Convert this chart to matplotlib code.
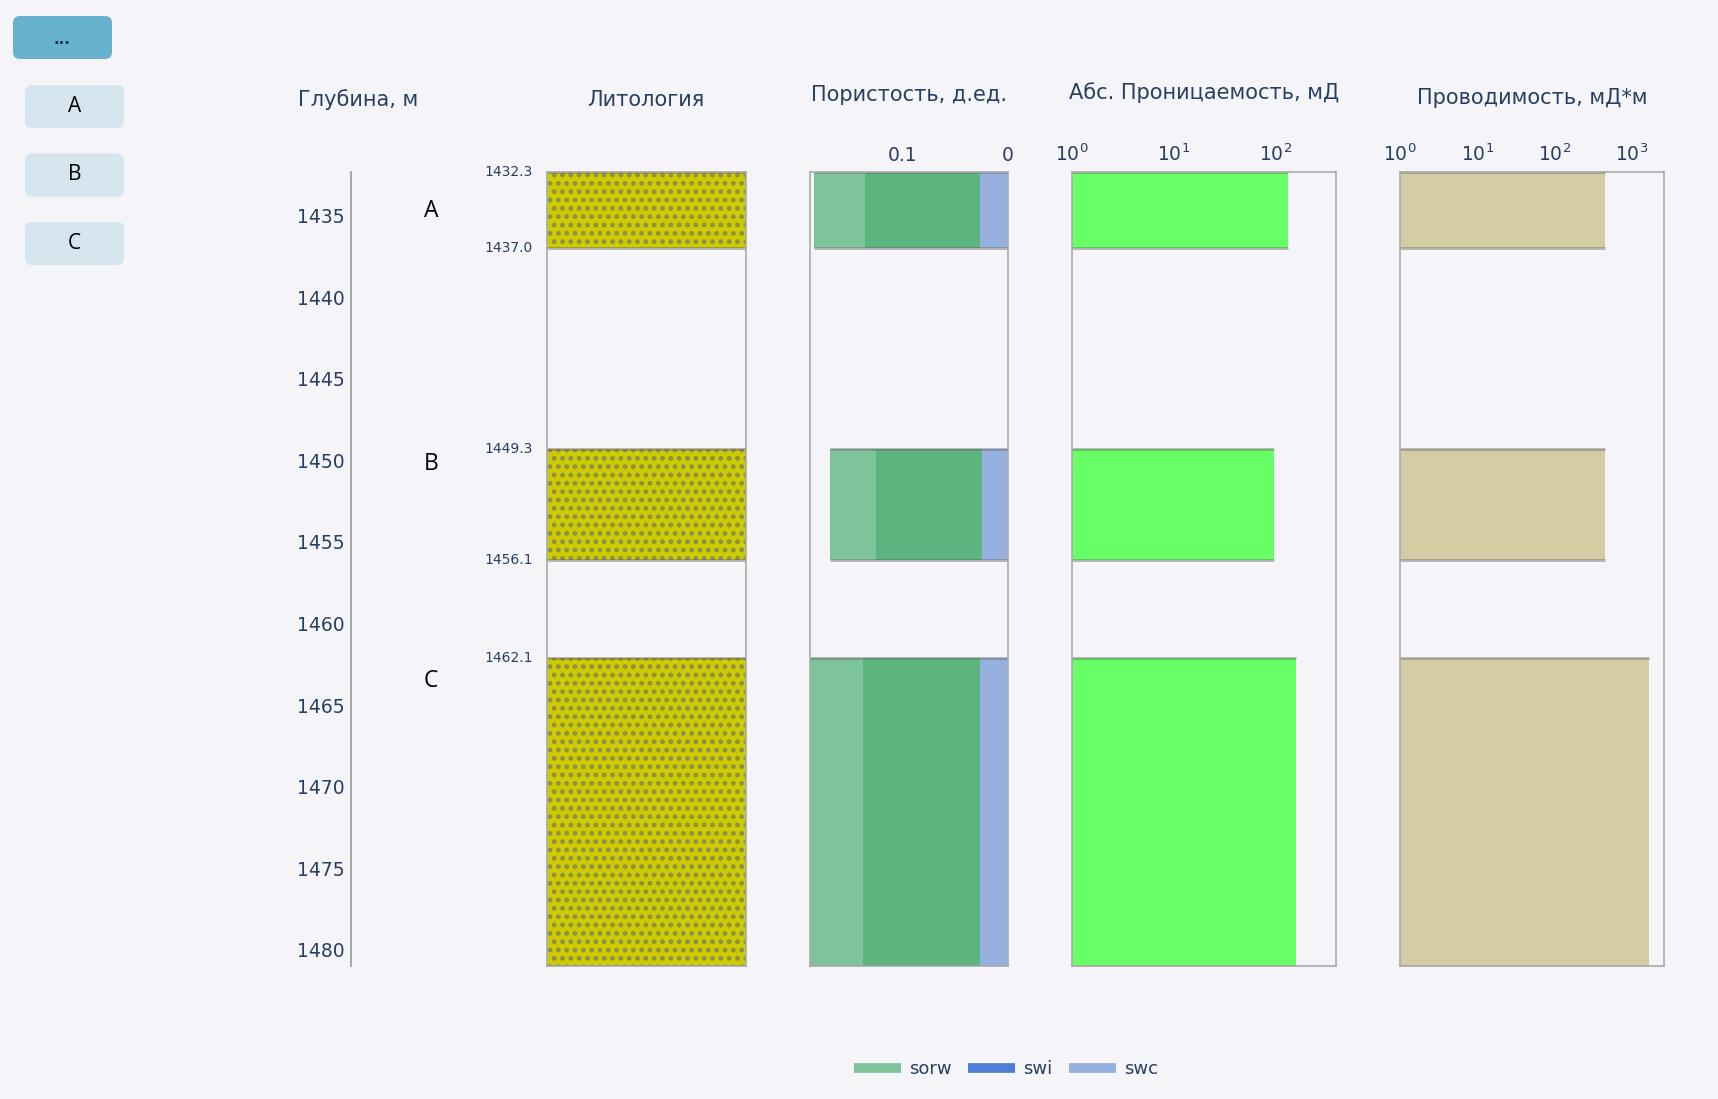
# Planshet: glubina, litologiya, poristost, pronicaemost, provodimost
import matplotlib
matplotlib.use("Agg")
import matplotlib.pyplot as plt
from matplotlib.patches import FancyBboxPatch
from matplotlib.lines import Line2D
from matplotlib.ticker import NullLocator

W, H = 1718, 1099

# Dannye po plastam
names = ["A", "B", "C"]
tops = [1432.3, 1449.3, 1462.1]
bottoms = [1437.0, 1456.1, 1481.0]
name_depths = [1434.7, 1450.2, 1463.5]
porosity = [0.183, 0.168, 0.195]
sorw = [0.135, 0.125, 0.137]
swc = [0.026, 0.0245, 0.026]
perm = [131, 95, 156]
cond = [449, 448, 1660]

depth_ticks = [1435, 1440, 1445, 1450, 1455, 1460, 1465, 1470, 1475, 1480]
por_ticks = [0.1, 0]
por_tick_labels = ["0.1", "0"]
legend_names = ["sorw", "swi", "swc"]
legend_colors = ["#7dc49a", "#4f7fd4", "#96b0e0"]
buttons = ["A", "B", "C"]

TXT = "#2a3f5f"
FRAME = "#aaaaaa"
thick = [b - t for t, b in zip(tops, bottoms)]

fig = plt.figure(figsize=(W / 100, H / 100), dpi=100)
fig.patch.set_facecolor("#f4f4f9")


def px_axes(x0, x1, y0=171.8, y1=966.0):
    ax = fig.add_axes([x0 / W, 1 - y1 / H, (x1 - x0) / W, (y1 - y0) / H])
    ax.set_facecolor("none")
    ax.set_ylim(1481.0, 1432.3)
    ax.set_yticks([])
    for s in ax.spines.values():
        s.set_color(FRAME)
        s.set_linewidth(1.2)
    return ax


def edges(ax, x0, x1):
    # serye linii po krovle i podoshve
    ax.hlines(tops, x0, x1, color="#666666", alpha=0.45, lw=2)
    ax.hlines(bottoms, x0, x1, color="#666666", alpha=0.45, lw=2)


# ось глубины
ax_d = px_axes(351, 547)
ax_d.set_xlim(0, 1)
for k in ["top", "right", "bottom"]:
    ax_d.spines[k].set_visible(False)
ax_d.spines["left"].set_color("#999999")
ax_d.set_xticks([])
ax_d.set_yticks(depth_ticks)
ax_d.tick_params(axis="y", length=0, pad=4.5, labelsize=13.5, labelcolor=TXT)
for n, d in zip(names, name_depths):
    ax_d.text(0.408, d, n, ha="center", va="center", fontsize=16.5,
              family="Open Sans", color="black")
for v in tops + bottoms[:-1]:
    ax_d.text(0.929, v, f"{v:.1f}", ha="right", va="center", fontsize=10, color=TXT)

# литология
plt.rcParams["hatch.linewidth"] = 2.2
ax_l = px_axes(547, 746)
ax_l.set_xlim(0, 1)
ax_l.set_xticks([])
ax_l.barh(tops, 1, height=thick, left=0, align="edge", color="#cccc00",
          edgecolor="#8e8e48", hatch="..", lw=0)
edges(ax_l, 0, 1)

# пористость
ax_p = px_axes(810, 1008)
ax_p.barh(tops, porosity, height=thick, align="edge", color="#7dc49a", lw=0)
ax_p.barh(tops, sorw, height=thick, align="edge", color="#5cb57e", lw=0)
ax_p.barh(tops, swc, height=thick, align="edge", color="#96b0e0", lw=0)
edges(ax_p, 0, porosity)
ax_p.set_xlim(0.187, 0)
ax_p.xaxis.tick_top()
ax_p.set_xticks(por_ticks, por_tick_labels)

# проницаемость
ax_k = px_axes(1072, 1336)
ax_k.set_xscale("log")
ax_k.barh(tops, [v - 1 for v in perm], height=thick, left=1, align="edge",
          color="#66ff66", lw=0)
edges(ax_k, 1, perm)
ax_k.set_xlim(1, 387)

# проводимость
ax_c = px_axes(1400, 1664)
ax_c.set_xscale("log")
ax_c.barh(tops, [v - 1 for v in cond], height=thick, left=1, align="edge",
          color="#d4cda3", lw=0)
edges(ax_c, 1, cond)
ax_c.set_xlim(1, 2600)

for ax in [ax_p, ax_k, ax_c]:
    ax.xaxis.tick_top()
    ax.xaxis.set_minor_locator(NullLocator())
    ax.tick_params(axis="x", length=0, pad=5, labelsize=13.5, labelcolor=TXT)

# заголовки
titles = [("Глубина, м", 358, 100), ("Литология", 646, 100),
          ("Пористость, д.ед.", 909, 95), ("Абс. Проницаемость, мД", 1204, 93),
          ("Проводимость, мД*м", 1532, 98)]
for t, x, y in titles:
    fig.text(x / W, 1 - y / H, t, ha="center", va="center", fontsize=15, color=TXT)

# легенда
handles = [Line2D([], [], color=c, lw=7, solid_capstyle="butt") for c in legend_colors]
fig.legend(handles, legend_names, loc="center", bbox_to_anchor=(1006 / W, 1 - 1069 / H),
           ncol=3, frameon=False, fontsize=13, handlelength=2.6, handletextpad=0.45,
           columnspacing=0.9, labelcolor=TXT)

# кнопки слева
ui = fig.add_axes([0, 0, 1, 1], zorder=-1)
ui.set_xlim(0, W)
ui.set_ylim(H, 0)
ui.axis("off")
ui.add_patch(FancyBboxPatch((13, 16), 99, 43, boxstyle="round,pad=0,rounding_size=7",
                            fc="#67b2cf", ec="none"))
ui.text(62, 40, "...", ha="center", va="center", fontsize=11, weight="bold", color="#1f2f4f")
for i, b in enumerate(buttons):
    y0 = 85 + i * 68.5
    ui.add_patch(FancyBboxPatch((25, y0), 99, 43, boxstyle="round,pad=0,rounding_size=7",
                                fc="#d6e6ee", ec="none"))
    ui.text(74.5, y0 + 21.5, b, ha="center", va="center", fontsize=15,
            family="Open Sans", color="black")

fig.savefig("out.png", dpi=100, facecolor=fig.get_facecolor())
